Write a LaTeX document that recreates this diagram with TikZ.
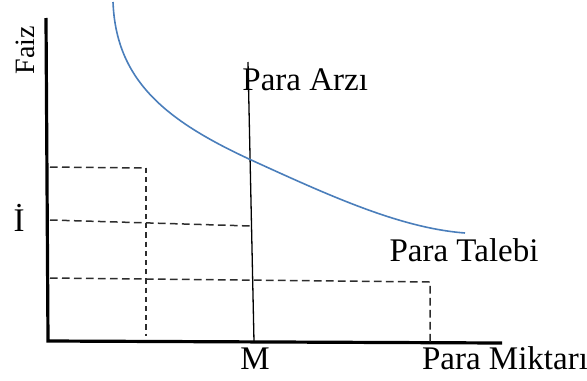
\documentclass[tikz,border=0pt]{standalone}
\usepackage{fontspec}
\setmainfont{Liberation Serif}
\usetikzlibrary{positioning}
\definecolor{talep}{RGB}{74,126,187}
\definecolor{kesik}{RGB}{45,45,45}

\begin{document}
\begin{tikzpicture}[x=0.5pt, y=-0.5pt,
      axis/.style={draw=black, line width=1.6pt},
      guide/.style={draw=kesik, line width=0.75pt, dash pattern=on 3.8pt off 2.2pt},
      lbl/.style={inner sep=0pt, font=\fontsize{16.5}{19}\selectfont}]

    \useasboundingbox (0,0) rectangle (587,380);

    \coordinate (o)     at (48,341);
    \coordinate (ytop)  at (46,18);
    \coordinate (xend)  at (502,343);
    \coordinate (s-top) at (248,62);
    \coordinate (s-bot) at (254,342);

    \draw[axis] (ytop) -- (o) -- (xend);
    \draw[line width=0.65pt] (s-top) -- (s-bot);

    \coordinate (d0) at (113,2);
    \coordinate (e)  at (249,159);
    \coordinate (d1) at (465,233);
    \draw[talep, line width=0.8pt] (d0) .. controls (116,80) and (165,120) .. (e)
                                         .. controls (330,196) and (400,228) .. (d1);

    \coordinate (h1) at (50,167);
    \coordinate (c1) at (146,168);
    \coordinate (b1) at (146,336);
    \coordinate (h2) at (50,220);
    \coordinate (c2) at (251,226);
    \coordinate (h3) at (50,278);
    \coordinate (c3) at (430,282);
    \coordinate (b3) at (430,342);
    \draw[guide] (h1) -- (c1);
    \draw[guide, dash pattern=on 2.6pt off 2pt] (c1) -- (b1);
    \draw[guide] (h2) -- (c2);
    \draw[guide] (h3) -- (c3) -- (b3);

    \node[lbl, rotate=90, font=\fontsize{14}{16}\selectfont] (faiz) at (25,50) {Faiz};
    \node[lbl] (ifaiz) at (19,218) {İ};
    \node[lbl] (m) at (255,359) {M};
    \node[lbl] (miktar) at (505,358) {Para Miktarı};
    \node[lbl, anchor=west] (arz) at (242,80) {Para Arzı};
    \node[lbl] (talep-lbl) at (464,250) {Para Talebi};
  \end{tikzpicture}
\end{document}
